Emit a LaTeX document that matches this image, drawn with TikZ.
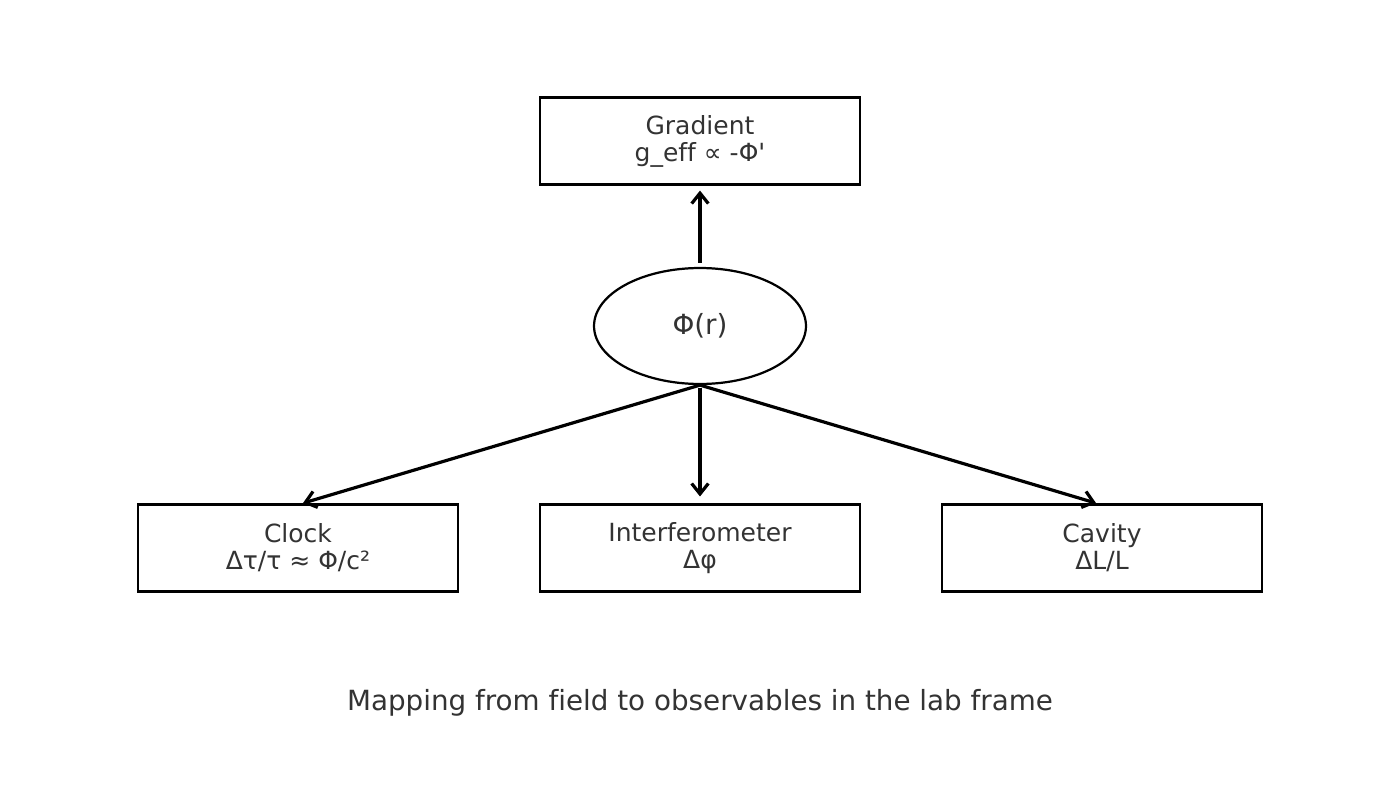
\documentclass[tikz,border=0pt]{standalone}
\usepackage{fontspec}
\newfontfamily\dv{DejaVu Sans}[Ligatures=NoCommon]
\usetikzlibrary{arrows.meta,shapes.geometric}
\definecolor{txt}{HTML}{333333}
\begin{document}
\begin{tikzpicture}[x=0.72pt,y=-0.72pt,
  box/.style={draw=black,line width=1.6pt,minimum width=230.4pt,minimum height=62.6pt,inner sep=0pt,
    align=center,text=txt,font=\dv\fontsize{18}{19.5}\selectfont},
  oval/.style={ellipse,draw=black,line width=1.6pt,minimum width=152.6pt,minimum height=83.5pt,inner sep=0pt,
    text=txt,font=\dv\fontsize{20}{24}\selectfont},
  conn/.style={line width=2.3pt,-{Straight Barb[length=7.5pt,width=12pt,line width=2.3pt]}},
  captiontext/.style={text=txt,font=\dv\fontsize{20}{24}\selectfont,inner sep=0pt}]
\path[use as bounding box,fill=white] (0,0) rectangle (1400,800);
\node[box] (grad) at (700,141) {Gradient\\g\_eff ∝ -Φ\symbol{39}};
\node[oval] (phi) at (700,326) {Φ(r)};
\node[box] (clock) at (298,548) {Clock\\Δτ/τ ≈ Φ/c²};
\node[box] (interf) at (700,548) {Interferometer\\Δφ};
\node[box] (cav) at (1102,548) {Cavity\\ΔL/L};
\node[captiontext] (title) at (700,703) {Mapping from field to observables in the lab frame};
\draw[conn,shorten <=3pt,shorten >=3.6pt] (phi.north) -- (grad.south);
\draw[conn,shorten <=2pt,shorten >=5pt] (phi.south) -- (interf.north);
\draw[conn,shorten >=0.7pt] (phi.south) -- ([xshift=2.9pt]clock.north);
\draw[conn,shorten >=0.7pt] (phi.south) -- ([xshift=-3.6pt]cav.north);
\end{tikzpicture}
\end{document}
